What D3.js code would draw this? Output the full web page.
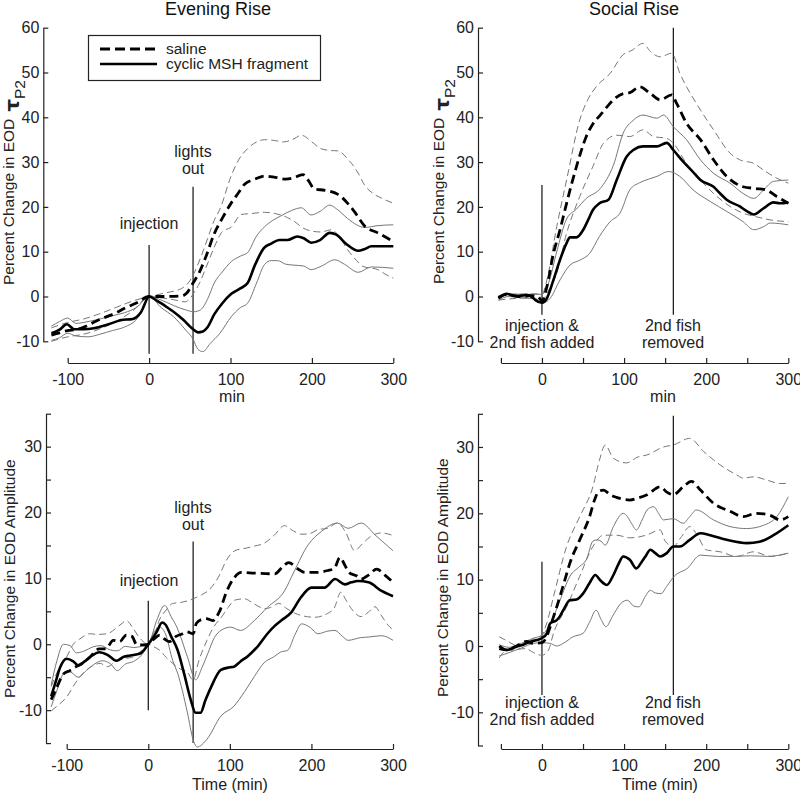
<!DOCTYPE html>
<html>
<head>
<meta charset="utf-8">
<script src="https://cdn.jsdelivr.net/npm/d3@7"></script>
<style>
  html, body { margin: 0; padding: 0; background: #fff; }
  svg { display: block; font-family: "Liberation Sans", Arial, sans-serif; }
</style>
</head>
<body>
<svg id="chart" width="800" height="795"></svg>
<script>
// ---------------- DATA (time in min, percent change) ----------------
// Panel A: Evening rise, EOD tau P2
const eveTauMsh = [[-120,-8.2],[-110,-7.4],[-101,-6.2],[-92,-7.3],[-80,-7.3],[-68,-7.1],[-50,-6.2],[-35,-5.3],[-20,-5.0],[-10,-3.5],[0,0],[10,-1.0],[22,-2.4],[30,-3.4],[42,-5.2],[54,-7.3],[60,-8.0],[66,-7.8],[72,-6.8],[80,-4.0],[90,-1.5],[101,0.6],[112,1.8],[121,3.0],[130,7.0],[141,10.8],[150,11.8],[160,12.6],[170,12.6],[182,13.4],[190,13.0],[199,12.0],[210,12.6],[222,14.2],[230,13.8],[243,11.6],[257,10.2],[265,10.6],[273,11.2],[300,11.2]];
const eveTauMshHi = [[-120,-6.6],[-110,-5.6],[-100,-4.8],[-90,-6.0],[-75,-5.6],[-60,-5.0],[-45,-4.3],[-30,-3.6],[-15,-2.4],[0,0],[15,-0.8],[30,-2.0],[45,-3.0],[55,-3.4],[63,-3.0],[72,-0.5],[80,3.0],[90,5.5],[101,7.8],[112,9.0],[121,9.8],[132,13.5],[142,15.6],[152,17.0],[162,18.0],[175,19.2],[187,19.8],[199,18.2],[210,19.0],[222,20.4],[230,19.6],[244,17.4],[255,16.0],[265,15.4],[280,15.8],[300,16.0]];
const eveTauMshLo = [[-120,-9.8],[-110,-9.2],[-100,-8.2],[-90,-8.8],[-75,-9.0],[-60,-8.4],[-45,-7.6],[-30,-6.8],[-15,-5.0],[-5,-2.0],[0,0],[15,-2.5],[30,-4.5],[45,-7.5],[54,-9.5],[60,-11.8],[66,-12.3],[75,-10.5],[87,-8.2],[101,-4.5],[112,-2.5],[121,-1.5],[132,3.0],[142,7.2],[150,8.0],[158,8.0],[168,7.2],[178,7.0],[190,6.8],[199,6.0],[212,6.8],[228,8.2],[240,7.2],[257,5.4],[273,6.6],[300,6.3]];
const eveTauSal = [[-120,-8.6],[-110,-8.1],[-100,-7.6],[-90,-7.4],[-80,-6.8],[-64,-5.4],[-52,-4.5],[-40,-3.6],[-30,-2.6],[-15,-1.4],[0,0],[20,0],[40,0.1],[46,0.7],[54,3.0],[62,5.5],[70,9.0],[80,14.0],[90,17.5],[101,20.9],[110,23.2],[117,25.0],[130,26.2],[142,26.9],[155,26.6],[168,26.2],[176,26.4],[189,27.2],[196,25.8],[203,24.0],[216,23.7],[232,22.8],[244,20.8],[252,19.0],[265,15.7],[281,14.2],[300,12.3]];
const eveTauSalHi = [[-120,-7.0],[-100,-5.8],[-80,-5.0],[-60,-3.8],[-40,-2.4],[-20,-1.0],[0,0],[20,0.8],[40,1.8],[50,3.5],[56,5.5],[64,9.0],[72,13.0],[80,17.0],[87,19.5],[101,27.0],[110,30.5],[121,33.0],[132,34.5],[142,35.0],[155,34.8],[165,34.5],[178,35.2],[187,36.0],[200,34.5],[211,33.0],[222,32.6],[232,32.5],[245,30.5],[256,27.8],[265,24.8],[275,23.0],[285,22.0],[300,20.8]];
const eveTauSalLo = [[-120,-10.0],[-100,-9.0],[-80,-8.4],[-60,-7.2],[-40,-5.5],[-20,-3.2],[0,0],[15,-0.3],[30,-0.7],[44,-1.2],[50,-0.5],[55,0.8],[62,3.0],[70,6.5],[80,11.0],[90,14.5],[101,15.5],[113,18.3],[125,18.5],[142,18.8],[155,18.5],[165,18.0],[178,16.8],[190,15.2],[200,14.6],[211,14.4],[224,14.9],[235,13.0],[244,10.4],[255,8.0],[263,6.7],[281,6.0],[290,5.0],[300,4.1]];

// Panel B: Social rise, EOD tau P2
const socTauMsh = [[-53,-0.4],[-48,0.2],[-43,0.6],[-37,0.3],[-31,0.1],[-25,0.2],[-19,0.3],[-13,0],[-8,-0.8],[0,-1.4],[6,-0.4],[14,3.7],[22,8.2],[30,11.9],[34,13.2],[42,13.2],[50,14.8],[56,17.0],[62,19.3],[70,20.8],[81,21.6],[91,26.0],[103,31.2],[112,32.8],[123,33.5],[140,33.5],[152,34.3],[160,32.7],[172,30.1],[183,28.0],[193,26.0],[209,24.5],[217,23.0],[225,21.6],[241,20.1],[250,19.0],[258,18.3],[270,19.7],[282,21.0],[290,20.8],[300,21.0]];
const socTauMshHi = [[-53,0],[-40,0.6],[-25,0.5],[-10,0.5],[0,0.5],[8,3.0],[18,10.0],[30,17.3],[42,19.5],[54,21.9],[71,24.1],[87,29.3],[99,36.5],[111,39.3],[123,40.5],[140,39.8],[148,40.5],[160,37.9],[176,35.0],[193,30.5],[209,27.5],[229,25.3],[245,23.0],[258,21.9],[270,23.8],[282,25.7],[300,26.0]];
const socTauMshLo = [[-53,-0.8],[-40,0],[-25,-0.3],[-10,-0.5],[0,-1.5],[10,-0.4],[22,3.7],[34,7.0],[46,8.1],[58,9.6],[70,13.4],[83,16.7],[95,18.6],[107,23.8],[119,25.4],[130,26.2],[140,26.8],[154,27.9],[168,26.8],[184,23.8],[205,21.2],[225,19.0],[245,16.7],[258,14.9],[270,15.6],[278,16.4],[300,16.0]];
const socTauSal = [[-53,-0.3],[-45,0.4],[-35,0.2],[-25,-0.1],[-15,0.2],[-5,0],[0,-1.0],[6,2.2],[14,9.6],[22,14.9],[30,20.8],[42,29.0],[54,35.7],[62,38.5],[71,40.5],[80,42.5],[87,43.9],[99,45.3],[107,45.5],[119,46.8],[132,45.3],[144,43.9],[158,45.0],[164,43.1],[176,38.7],[193,35.0],[209,30.5],[225,26.8],[245,24.5],[261,24.1],[273,23.8],[286,22.3],[300,20.8]];
const socTauSalHi = [[-53,0.2],[-30,0.5],[-10,0.6],[0,0.5],[6,3.7],[18,15.6],[30,26.0],[46,39.4],[56,44.0],[66,46.8],[83,49.8],[99,54.0],[110,55.0],[123,56.5],[132,54.7],[144,53.5],[158,54.3],[168,49.8],[188,43.1],[209,37.2],[229,32.0],[241,30.5],[258,29.7],[270,28.2],[286,26.4],[300,25.3]];
const socTauSalLo = [[-53,-0.8],[-30,-0.4],[-10,-0.3],[0,-1.2],[6,0.7],[18,5.2],[30,14.1],[46,22.3],[62,29.0],[75,34.2],[91,36.0],[107,35.7],[123,37.2],[136,35.7],[152,35.3],[160,34.2],[176,29.7],[193,26.0],[209,23.0],[229,20.1],[245,18.6],[261,17.8],[278,17.1],[300,16.7]];

// Panel C: Evening rise, EOD amplitude
const eveAmpMsh = [[-119,-7.9],[-114,-5.9],[-108,-3.5],[-100,-2.2],[-92,-2.6],[-86,-3.2],[-78,-2.6],[-71,-1.9],[-60,-1.2],[-50,-1.6],[-39,-2.5],[-30,-1.9],[-22,-1.7],[-10,-1.4],[0,0],[10,1.8],[17,3.3],[21,3.0],[28,1.2],[36,-0.9],[44,-4.5],[52,-8.4],[58,-10.4],[64,-10.4],[70,-8.5],[77,-6.5],[89,-3.9],[100,-3.5],[105,-3.4],[113,-2.6],[122,-1.8],[135,-0.2],[146,1.6],[155,2.8],[163,3.6],[175,4.8],[187,7.1],[200,8.6],[216,8.6],[229,9.9],[241,9.1],[249,9.4],[257,9.6],[270,9.4],[286,8.1],[300,7.3]];
const eveAmpMshHi = [[-119,-6.2],[-112,-2.5],[-104,0.0],[-96,-0.2],[-88,-1.3],[-78,-1.0],[-68,-0.4],[-58,-0.2],[-48,-0.8],[-38,-1.0],[-28,-0.3],[-18,-0.5],[-8,-0.3],[0,0],[10,3.5],[20,5.9],[28,4.2],[35,2.6],[48,-1.9],[58,-5.4],[66,-3.5],[73,-1.4],[81,1.0],[89,2.1],[101,2.6],[113,2.1],[130,3.6],[146,5.6],[167,8.1],[179,11.1],[196,15.1],[212,17.1],[232,18.4],[245,17.6],[261,18.4],[278,16.6],[300,14.2]];
const eveAmpMshLo = [[-119,-9.5],[-112,-7.0],[-104,-4.5],[-96,-4.2],[-86,-5.0],[-76,-4.0],[-66,-3.0],[-56,-2.5],[-46,-3.0],[-38,-4.0],[-28,-3.0],[-18,-2.6],[-8,-1.6],[0,0],[8,2.0],[14,2.6],[21,1.6],[30,-2.5],[36,-4.4],[48,-10.4],[55,-14.5],[60,-15.6],[72,-14.4],[89,-10.9],[105,-9.4],[118,-7.2],[130,-4.9],[142,-2.8],[154,-1.9],[162,-1.2],[171,-0.9],[180,1.5],[188,3.1],[198,2.6],[208,1.6],[220,2.0],[229,2.1],[238,1.2],[245,0.6],[260,1.0],[270,1.1],[286,1.3],[300,0.6]];
const eveAmpSal = [[-119,-8.4],[-112,-6.5],[-104,-4.5],[-96,-4.0],[-90,-3.5],[-82,-3.0],[-72,-2.0],[-60,-0.7],[-52,-0.7],[-43,0.6],[-35,0.4],[-27,1.4],[-20,1.2],[-14,-0.1],[0,0],[7,0.8],[14,1.4],[20,0.8],[26,0.4],[34,1.2],[42,1.6],[47,1.9],[55,1.6],[59,3.2],[66,3.8],[71,3.9],[79,3.6],[87,4.9],[96,8.0],[106,10.2],[114,10.9],[130,10.8],[155,10.7],[165,11.8],[172,12.4],[184,11.4],[192,10.9],[205,10.9],[220,11.2],[228,11.5],[235,13.2],[241,12.0],[246,10.9],[255,10.4],[261,9.9],[270,10.5],[280,11.4],[290,10.5],[300,9.4]];
const eveAmpSalHi = [[-119,-6.4],[-110,-3.8],[-100,-1.9],[-92,0.0],[-84,0.8],[-72,1.6],[-62,1.5],[-50,1.6],[-40,2.4],[-32,3.2],[-27,3.6],[-20,2.7],[-12,1.2],[0,0],[6,0.9],[14,3.8],[22,5.2],[30,6.2],[42,6.4],[55,6.9],[65,7.5],[73,8.1],[86,10.2],[96,12.8],[106,14.2],[120,14.6],[130,14.9],[143,15.4],[154,16.5],[167,18.0],[178,17.2],[188,16.7],[198,16.8],[208,17.4],[220,17.6],[232,18.4],[242,17.0],[253,14.2],[262,15.2],[273,16.4],[286,16.9],[300,16.5]];
const eveAmpSalLo = [[-119,-10.1],[-110,-9.2],[-100,-8.0],[-90,-6.0],[-80,-4.4],[-70,-3.4],[-59,-2.9],[-50,-3.4],[-40,-2.6],[-30,-2.2],[-18,-1.9],[-8,-0.9],[0,0],[7,-0.4],[14,-0.9],[22,-2.0],[30,-2.9],[40,-3.8],[47,-4.1],[55,-5.4],[62,-2.5],[72,0.6],[80,2.6],[89,4.0],[98,5.6],[106,6.7],[118,6.9],[130,6.1],[143,5.4],[150,5.6],[160,6.2],[170,5.4],[180,4.7],[190,4.3],[204,4.1],[220,4.7],[228,5.5],[236,7.9],[242,6.8],[249,5.4],[261,4.2],[270,4.9],[278,5.7],[285,4.5],[294,2.9],[300,2.2]];

// Panel D: Social rise, EOD amplitude
const socAmpMsh = [[-52,-0.4],[-43,-0.6],[-37,-0.4],[-31,-0.1],[-25,0.1],[-19,0.4],[-12,0.7],[-6,0.9],[0,1.2],[6,1.9],[10,3.4],[18,3.9],[22,4.5],[26,5.4],[34,6.9],[42,7.0],[50,7.9],[58,9.5],[65,10.7],[71,9.9],[79,9.2],[87,10.7],[93,12.3],[99,13.5],[107,13.0],[115,11.7],[121,12.6],[126,13.5],[132,14.5],[138,14.0],[144,13.5],[152,14.0],[160,15.0],[168,15.0],[180,16.0],[193,17.0],[205,16.7],[225,16.0],[250,15.5],[265,15.7],[282,16.7],[300,18.2]];
const socAmpMshHi = [[-52,0.2],[-40,-0.2],[-25,0.4],[-10,1.2],[0,1.6],[6,2.5],[14,4.4],[22,6.9],[34,10.5],[46,12.0],[54,13.0],[62,15.8],[67,16.0],[72,15.8],[77,15.2],[87,18.0],[99,20.0],[104,19.5],[109,18.5],[115,17.5],[122,19.0],[128,20.5],[136,21.0],[142,20.0],[148,19.0],[160,19.2],[172,18.5],[180,19.5],[188,20.5],[209,19.0],[229,18.0],[249,17.7],[270,18.2],[286,19.5],[300,22.5]];
const socAmpMshLo = [[-52,-1.5],[-40,-1.0],[-25,-0.3],[-10,0.4],[0,0.5],[10,0.4],[18,0],[26,0.4],[38,1.4],[50,1.9],[58,3.6],[66,5.4],[72,4.0],[78,2.9],[86,4.5],[96,6.4],[104,6.9],[112,6.0],[118,5.9],[126,7.5],[132,8.4],[138,8.0],[145,7.9],[152,9.0],[161,10.5],[177,11.7],[193,13.7],[214,13.5],[234,13.5],[254,13.6],[275,13.5],[300,14.0]];
const socAmpSal = [[-52,0],[-43,-0.6],[-31,0],[-19,0.7],[-10,0.4],[0,0.5],[6,1.5],[10,2.9],[18,5.9],[28,10.0],[34,12.5],[46,16.0],[58,19.5],[64,22.0],[69,23.3],[75,23.5],[83,22.8],[91,22.4],[107,22.0],[117,22.3],[128,22.8],[144,24.0],[152,23.2],[160,22.8],[172,24.0],[182,24.8],[193,23.5],[209,21.5],[229,20.3],[245,19.5],[261,20.0],[278,19.7],[290,19.0],[300,19.5]];
const socAmpSalHi = [[-52,1.4],[-40,0.6],[-30,0],[-15,0.8],[0,1.7],[6,3.5],[14,7.4],[30,15.0],[46,19.5],[62,24.0],[70,28.0],[77,30.3],[87,28.3],[103,27.6],[117,28.5],[128,28.8],[148,30.0],[160,30.3],[180,31.3],[197,29.3],[217,27.3],[237,25.8],[245,25.3],[258,25.5],[274,25.0],[290,24.5],[300,24.5]];
const socAmpSalLo = [[-52,-1.8],[-45,-0.8],[-35,-0.6],[-20,-0.4],[-10,-1.0],[0,-1.4],[8,-0.6],[14,1.9],[30,5.9],[46,10.5],[62,15.0],[75,16.7],[91,16.7],[107,16.3],[127,16.7],[144,17.5],[150,15.8],[160,15.0],[170,16.5],[180,18.0],[190,16.5],[200,14.5],[217,14.2],[237,13.5],[258,14.2],[278,13.5],[300,14.0]];

// tick values
const tauTicks = [-10, 0, 10, 20, 30, 40, 50, 60];
const ampTicks = [-15, -10, -5, 0, 5, 10, 15, 20, 25, 30, 35];
const eveTimeTicks = [-100, 0, 100, 200, 300];
const socTimeTicks = [-50, 0, 50, 100, 150, 200, 250, 300];

// event markers: [time, lowValue, highValue]
const eveTauEvents = [[0, -12.8, 11.5], [54, -12.8, 24.5]];
const socTauEvents = [[0, -4.1, 24.9], [160, -4.1, 60]];
const eveAmpEvents = [[0, -10, 6.6], [55, -15, 15.6]];
const socAmpEvents = [[0, -7.4, 12.7], [160, -7.4, 34.7]];

const legendLabels = ["saline", "cyclic MSH fragment"];

// ---------------- DRAWING ----------------
const svg = d3.select("#chart");
const FONT = 16;
const GRAY = "#777";

function drawPanel(p) {
  const g = svg.append("g");
  const x = d3.scaleLinear().domain(p.xDomain).range(p.xRange);
  const y = d3.scaleLinear().domain(p.yDomain).range(p.yRange);

  const ya = g.append("g").attr("transform", `translate(${p.yAxisX},0)`)
    .call(d3.axisLeft(y).tickValues(p.yTicks).tickSizeInner(-5).tickSizeOuter(0).tickPadding(4)
      .tickFormat(d => (d % 10 === 0 ? String(d) : "")));
  const xa = g.append("g").attr("transform", `translate(0,${p.xAxisY})`)
    .call(d3.axisBottom(x).tickValues(p.xTicks).tickSizeInner(-5).tickSizeOuter(0).tickPadding(11)
      .tickFormat(d => (d % 100 === 0 ? String(d) : "")));
  [ya, xa].forEach(a => {
    a.selectAll("path.domain").attr("stroke", "#222").attr("stroke-width", 1.2);
    a.selectAll(".tick line").attr("stroke", "#222").attr("stroke-width", 1.2);
    a.selectAll("text").attr("font-size", FONT).attr("fill", "#222")
      .attr("font-family", '"Liberation Sans", Arial, sans-serif');
  });

  const line = d3.line().x(d => x(d[0])).y(d => y(d[1])).curve(d3.curveMonotoneX);

  p.events.forEach(e => {
    g.append("line").attr("x1", x(e[0])).attr("x2", x(e[0]))
      .attr("y1", y(e[1])).attr("y2", y(e[2]))
      .attr("stroke", "#111").attr("stroke-width", 1.2);
  });

  [p.salHi, p.salLo].forEach(s => g.append("path").attr("d", line(s))
    .attr("fill", "none").attr("stroke", GRAY).attr("stroke-width", 1).attr("stroke-dasharray", "7,4"));
  [p.mshHi, p.mshLo].forEach(s => g.append("path").attr("d", line(s))
    .attr("fill", "none").attr("stroke", GRAY).attr("stroke-width", 1));
  g.append("path").attr("d", line(p.sal)).attr("fill", "none").attr("stroke", "#000")
    .attr("stroke-width", 2.8).attr("stroke-dasharray", "9,5");
  g.append("path").attr("d", line(p.msh)).attr("fill", "none").attr("stroke", "#000")
    .attr("stroke-width", 2.6);

  p.notes.forEach(n => {
    g.append("text").attr("x", n[0]).attr("y", n[1]).attr("text-anchor", "middle")
      .attr("font-size", FONT).attr("fill", "#222").text(n[2]);
  });

  g.append("text").attr("x", p.xTitle[0]).attr("y", p.xTitle[1]).attr("text-anchor", "middle")
    .attr("font-size", FONT).attr("fill", "#222").text(p.xTitle[2]);

  const yt = g.append("text")
    .attr("transform", `translate(${p.yTitle[0]},${p.yTitle[1]}) rotate(-90)`)
    .attr("font-size", 15.5).attr("fill", "#222");
  yt.append("tspan").text(p.yTitle[2]);
  if (p.tau) {
    yt.append("tspan").attr("font-size", 20).attr("font-weight", "bold").attr("dy", 5)
      .attr("font-family", '"DejaVu Sans", sans-serif').text(" \u03C4");
    yt.append("tspan").attr("font-size", 15.5).attr("dy", 6).text("P2");
  }
  return { x, y, g };
}

svg.append("text").attr("x", 218).attr("y", 15).attr("text-anchor", "middle")
  .attr("font-size", 18).attr("fill", "#111").text("Evening Rise");
svg.append("text").attr("x", 634).attr("y", 15).attr("text-anchor", "middle")
  .attr("font-size", 18).attr("fill", "#111").text("Social Rise");

drawPanel({
  xDomain: [-100, 300], xRange: [67.7, 393.3], yDomain: [-10, 60], yRange: [341.3, 27.7],
  yAxisX: 43.3, xAxisY: 363, yTicks: tauTicks, xTicks: eveTimeTicks, events: eveTauEvents,
  sal: eveTauSal, salHi: eveTauSalHi, salLo: eveTauSalLo, msh: eveTauMsh, mshHi: eveTauMshHi, mshLo: eveTauMshLo,
  notes: [[149, 229, "injection"], [193, 157, "lights"], [193, 174, "out"]],
  xTitle: [232, 402, "min"], yTitle: [14, 285, "Percent Change in EOD"], tau: true
});
drawPanel({
  xDomain: [-50, 300], xRange: [500.9, 788.3], yDomain: [-10, 60], yRange: [341.3, 27.7],
  yAxisX: 478, xAxisY: 363, yTicks: tauTicks, xTicks: socTimeTicks, events: socTauEvents,
  sal: socTauSal, salHi: socTauSalHi, salLo: socTauSalLo, msh: socTauMsh, mshHi: socTauMshHi, mshLo: socTauMshLo,
  notes: [[542, 331, "injection &"], [542, 348, "2nd fish added"], [673, 331, "2nd fish"], [673, 348, "removed"]],
  xTitle: [663, 402, "min"], yTitle: [444, 284, "Percent Change in EOD"], tau: true
});
drawPanel({
  xDomain: [-100, 300], xRange: [66.7, 393], yDomain: [-15, 35], yRange: [743.1, 413.7],
  yAxisX: 46, xAxisY: 749, yTicks: ampTicks, xTicks: eveTimeTicks, events: eveAmpEvents,
  sal: eveAmpSal, salHi: eveAmpSalHi, salLo: eveAmpSalLo, msh: eveAmpMsh, mshHi: eveAmpMshHi, mshLo: eveAmpMshLo,
  notes: [[149, 586, "injection"], [193, 513, "lights"], [193, 530, "out"]],
  xTitle: [230, 790, "Time (min)"], yTitle: [15, 698, "Percent Change in EOD Amplitude"], tau: false
});
drawPanel({
  xDomain: [-50, 300], xRange: [500.9, 788.3], yDomain: [-15, 35], yRange: [745.5, 413.8],
  yAxisX: 478, xAxisY: 749, yTicks: ampTicks, xTicks: socTimeTicks, events: socAmpEvents,
  sal: socAmpSal, salHi: socAmpSalHi, salLo: socAmpSalLo, msh: socAmpMsh, mshHi: socAmpMshHi, mshLo: socAmpMshLo,
  notes: [[542, 708, "injection &"], [542, 725, "2nd fish added"], [673, 708, "2nd fish"], [673, 725, "removed"]],
  xTitle: [660, 790, "Time (min)"], yTitle: [448, 697, "Percent Change in EOD Amplitude"], tau: false
});

const leg = svg.append("g");
leg.append("rect").attr("x", 88.5).attr("y", 35.5).attr("width", 232).attr("height", 45)
  .attr("fill", "#fff").attr("stroke", "#222").attr("stroke-width", 1.2);
leg.append("line").attr("x1", 100).attr("x2", 157).attr("y1", 49).attr("y2", 49)
  .attr("stroke", "#000").attr("stroke-width", 2.8).attr("stroke-dasharray", "10,5");
leg.append("line").attr("x1", 100).attr("x2", 157).attr("y1", 64).attr("y2", 64)
  .attr("stroke", "#000").attr("stroke-width", 2.6);
legendLabels.forEach((t, i) => {
  leg.append("text").attr("x", 166).attr("y", 54 + i * 15).attr("font-size", 15.5)
    .attr("fill", "#222").text(t);
});
</script>
</body>
</html>
